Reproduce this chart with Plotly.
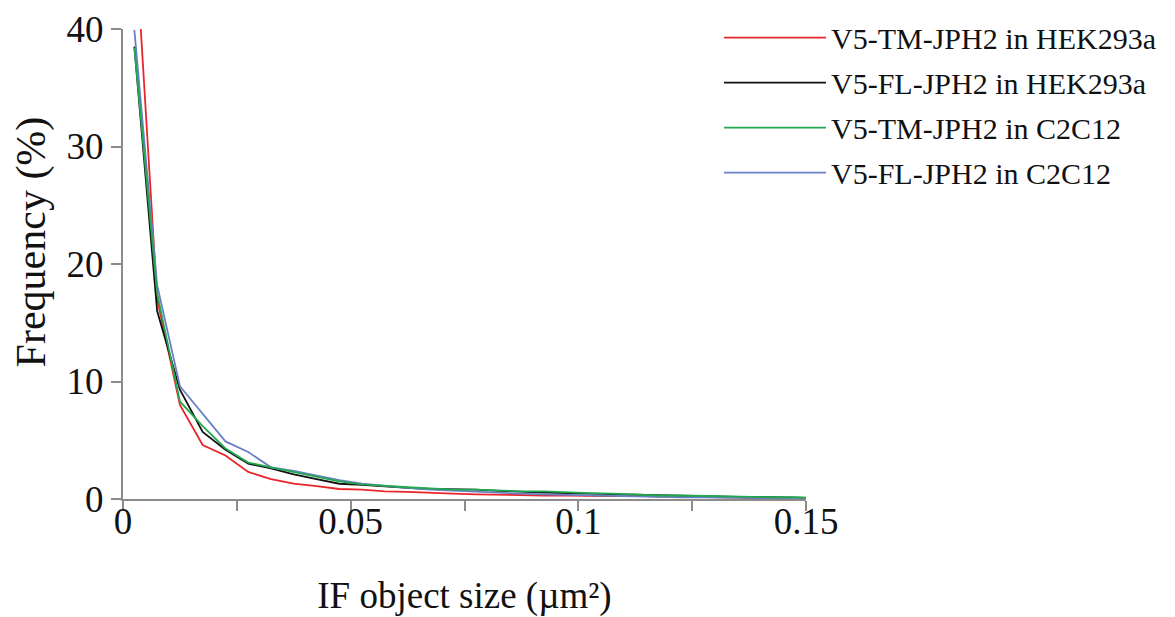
import plotly.graph_objects as go

x_size = [0.0025, 0.0075, 0.0125, 0.0175, 0.0225, 0.0275, 0.0325, 0.0375, 0.0425, 0.0475,
          0.0525, 0.0575, 0.0625, 0.0675, 0.0725, 0.0775, 0.0825, 0.0875, 0.0925, 0.0975,
          0.1025, 0.1075, 0.1125, 0.1175, 0.1225, 0.1275, 0.1325, 0.1375, 0.1425, 0.1475, 0.15]

tm_hek = [49.0, 17.0, 8.0, 4.6, 3.7, 2.3, 1.7, 1.3, 1.1, 0.85,
          0.8, 0.65, 0.6, 0.5, 0.45, 0.4, 0.35, 0.35, 0.3, 0.3,
          0.25, 0.25, 0.3, 0.2, 0.2, 0.15, 0.12, 0.1, 0.08, 0.05, 0.05]

fl_hek = [38.5, 16.0, 9.3, 5.7, 4.2, 3.0, 2.6, 2.1, 1.7, 1.3,
          1.2, 1.05, 0.95, 0.85, 0.85, 0.8, 0.7, 0.6, 0.55, 0.5,
          0.45, 0.4, 0.35, 0.3, 0.3, 0.25, 0.2, 0.15, 0.15, 0.1, 0.1]

tm_c2c12 = [38.4, 17.5, 8.3, 6.2, 4.3, 3.1, 2.7, 2.3, 1.9, 1.5,
            1.25, 1.1, 1.0, 0.9, 0.8, 0.8, 0.7, 0.65, 0.65, 0.55,
            0.5, 0.45, 0.35, 0.3, 0.3, 0.25, 0.2, 0.2, 0.15, 0.15, 0.12]

fl_c2c12 = [39.9, 18.2, 9.6, 7.3, 4.9, 4.0, 2.7, 2.4, 2.0, 1.6,
            1.3, 1.1, 0.95, 0.8, 0.7, 0.6, 0.5, 0.45, 0.4, 0.35,
            0.3, 0.25, 0.2, 0.2, 0.15, 0.15, 0.1, 0.1, 0.08, 0.05, 0.05]

series_names = ["V5-TM-JPH2 in HEK293a", "V5-FL-JPH2 in HEK293a",
                "V5-TM-JPH2 in C2C12", "V5-FL-JPH2 in C2C12"]
series_values = [tm_hek, fl_hek, tm_c2c12, fl_c2c12]
colors = ["#e8262a", "#111111", "#22a94f", "#6a80c6"]

x_ticks = [0, 0.05, 0.1, 0.15]
x_tick_labels = ["0", "0.05", "0.1", "0.15"]
y_ticks = [0, 10, 20, 30, 40]

FONT = "Liberation Serif"
TXT = "#111111"

fig = go.Figure()
order = [0, 1, 3, 2]
for i in order:
    fig.add_trace(go.Scatter(
        x=x_size, y=series_values[i], mode="lines", name=series_names[i],
        legendgroup=f"g{i}", legendrank=i + 1,
        line=dict(color=colors[i], width=1.8),
    ))

axis_col = "#8c8c8c"
fig.update_layout(
    width=1175, height=617,
    margin=dict(l=123, r=369, t=29, b=118, autoexpand=False),
    plot_bgcolor="white", paper_bgcolor="white",
    font=dict(family=FONT, color=TXT),
    showlegend=True,
    legend=dict(x=0.8726, xanchor="left", y=1.037, yanchor="top",
                font=dict(family=FONT, size=30, color=TXT),
                itemwidth=102, tracegroupgap=3, traceorder="grouped",
                bgcolor="rgba(0,0,0,0)"),
    xaxis=dict(range=[0, 0.15], tickvals=x_ticks, ticktext=x_tick_labels,
               showline=True, linecolor=axis_col, linewidth=2,
               ticks="outside", ticklen=10, tickwidth=2, tickcolor=axis_col,
               minor=dict(dtick=0.025, tick0=0, ticks="outside", ticklen=10,
                          tickwidth=2, tickcolor=axis_col, showgrid=False),
               showgrid=False, zeroline=False, ticklabelstandoff=-21,
               tickfont=dict(family=FONT, size=37, color=TXT),
               title=dict(text="IF object size (µm²)",
                          font=dict(family=FONT, size=37, color=TXT),
                          standoff=43)),
    yaxis=dict(range=[0, 40], tickvals=y_ticks,
               showline=True, linecolor=axis_col, linewidth=2,
               ticks="outside", ticklen=10, tickwidth=2, tickcolor=axis_col,
               showgrid=False, zeroline=False,
               tickfont=dict(family=FONT, size=37, color=TXT)),
    annotations=[dict(text="Frequency (%)", textangle=-90, showarrow=False,
                      xref="paper", yref="paper", x=-0.134, y=0.547,
                      xanchor="center", yanchor="middle",
                      font=dict(family=FONT, size=42, color=TXT))],
)

fig.write_html("out.html")
